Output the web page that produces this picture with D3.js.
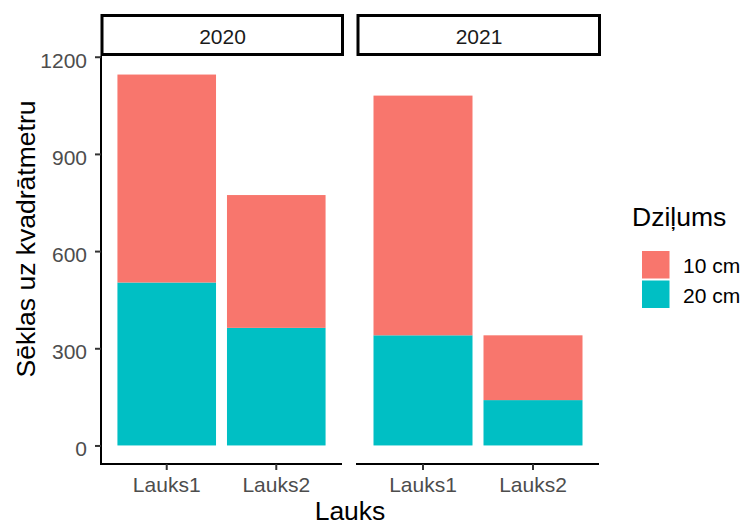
<!DOCTYPE html>
<html>
<head>
<meta charset="utf-8">
<script src="https://cdn.jsdelivr.net/npm/d3@7"></script>
<style>
  body { margin: 0; background: #fff; }
  svg { display: block; font-family: "Liberation Sans", Arial, sans-serif; }
</style>
</head>
<body>
<svg id="chart" width="744" height="526"></svg>
<script>
// ---- data ----
const years = ["2020", "2021"];
const fields = ["Lauks1", "Lauks2"];
const depths = ["10 cm", "20 cm"];
// values per year, in field order
const depth10 = { "2020": [642, 410], "2021": [740, 200] };
const depth20 = { "2020": [503, 363], "2021": [340, 140] };
const yTicks = [0, 300, 600, 900, 1200];
const colors = ["#F8766D", "#00BFC4"];

const svg = d3.select("#chart");
const FONT = "Liberation Sans, Arial, sans-serif";

const panels = [
  { year: "2020", x0: 101, x1: 342 },
  { year: "2021", x0: 357, x1: 599 }
];
const panelTop = 56, panelBottom = 464;

let maxTotal = 0;
years.forEach(yr => fields.forEach((f, i) => {
  maxTotal = Math.max(maxTotal, depth10[yr][i] + depth20[yr][i]);
}));
const y = d3.scaleLinear()
  .domain([-0.05 * maxTotal, maxTotal * 1.05])
  .range([panelBottom, panelTop]);

const color = d3.scaleOrdinal().domain(depths).range(colors);

panels.forEach((p, pi) => {
  const x = d3.scaleBand().domain(fields)
    .range([p.x0, p.x1])
    .paddingInner(0.1).paddingOuter(0.15);

  const rows = fields.map((f, i) => ({ field: f, "20 cm": depth20[p.year][i], "10 cm": depth10[p.year][i] }));
  const stack = d3.stack().keys(["20 cm", "10 cm"])(rows);

  const g = svg.append("g");
  stack.forEach(layer => {
    g.selectAll(null).data(layer).enter().append("rect")
      .attr("x", d => x(d.data.field))
      .attr("width", x.bandwidth())
      .attr("y", d => y(d[1]))
      .attr("height", d => y(d[0]) - y(d[1]))
      .attr("fill", color(layer.key));
  });

  const xa = svg.append("g")
    .attr("transform", `translate(0,${panelBottom})`)
    .call(d3.axisBottom(x).tickSizeOuter(0).tickSize(6).tickPadding(7));
  xa.select(".domain").attr("stroke", "#000").attr("stroke-width", 2)
    .attr("d", `M${p.x0 - 1},0H${p.x1}`);
  xa.selectAll(".tick line").attr("stroke", "#333").attr("stroke-width", 2);
  xa.selectAll(".tick text").attr("fill", "#4D4D4D")
    .style("font-size", "21px").style("font-family", FONT);

  svg.append("rect")
    .attr("x", p.x0 + 1).attr("y", 15.5)
    .attr("width", p.x1 - p.x0 - 0.5).attr("height", 39)
    .attr("fill", "#fff").attr("stroke", "#000").attr("stroke-width", 3);
  svg.append("text")
    .attr("x", (p.x0 + p.x1) / 2 + 1).attr("y", 44.3)
    .attr("text-anchor", "middle").attr("fill", "#1A1A1A")
    .style("font-size", "21px").text(p.year);

  if (pi === 0) {
    const ya = svg.append("g")
      .attr("transform", `translate(${p.x0},0)`)
      .call(d3.axisLeft(y).tickValues(yTicks).tickFormat(d3.format("d"))
        .tickSizeOuter(0).tickSize(6).tickPadding(8));
    ya.select(".domain").attr("stroke", "#000").attr("stroke-width", 2)
      .attr("d", `M0,${panelTop}V${panelBottom + 1}`);
    ya.selectAll(".tick line").attr("stroke", "#333").attr("stroke-width", 2);
    ya.selectAll(".tick text").attr("fill", "#4D4D4D")
      .attr("dy", "0.5em")
      .style("font-size", "21px").style("font-family", FONT);
  }
});

svg.append("text")
  .attr("x", (101 + 599) / 2).attr("y", 519.5)
  .attr("text-anchor", "middle").attr("fill", "#000")
  .style("font-size", "26.5px").text("Lauks");
svg.append("text")
  .attr("transform", "translate(34.5,239) rotate(-90)")
  .attr("text-anchor", "middle").attr("fill", "#000")
  .style("font-size", "26.5px").text("Sēklas uz kvadrātmetru");

const lg = svg.append("g");
lg.append("text").attr("x", 632).attr("y", 226)
  .attr("fill", "#000").style("font-size", "26.5px").text("Dziļums");
depths.forEach((d, i) => {
  lg.append("rect").attr("x", 642).attr("y", 251 + i * 29.5)
    .attr("width", 27.5).attr("height", 27.5).attr("fill", color(d));
  lg.append("text").attr("x", 683).attr("y", 273.3 + i * 29.5)
    .attr("fill", "#000").style("font-size", "21px").text(d);
});
</script>
</body>
</html>
